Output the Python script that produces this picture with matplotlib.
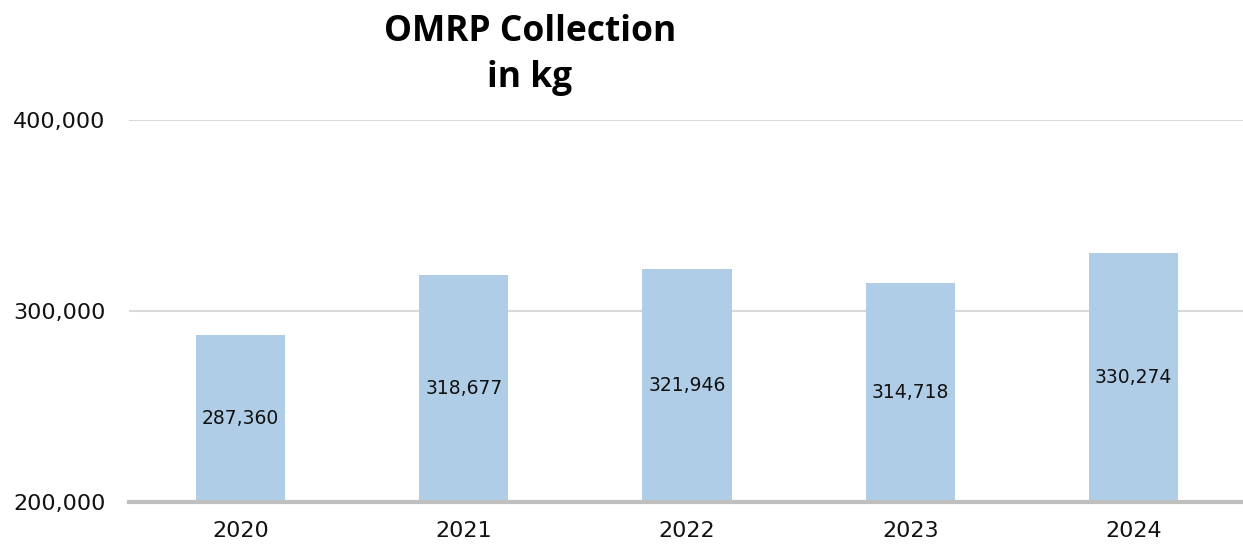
import matplotlib.pyplot as plt
import matplotlib.ticker as ticker

years = ['2020', '2021', '2022', '2023', '2024']
collected = [287360, 318677, 321946, 314718, 330274]

plt.rcParams['font.family'] = ['DejaVu Sans']

fig = plt.figure(figsize=(12.43, 5.46), dpi=100)
ax = fig.add_axes([129 / 1243, 44 / 546, 1116 / 1243, 382 / 546])

x = range(len(years))
bars = ax.bar(x, collected, width=0.40, color='#AFCDE6', zorder=2)
for b, v in zip(bars, collected):
    ax.text(b.get_x() + b.get_width() / 2, (200000 + v) / 2, f'{v:,}',
            ha='center', va='center', fontsize=13.5, color='#111111')

ax.set_xlim(-0.5, len(years) - 0.5)
ax.set_ylim(200000, 400000)
ax.set_xticks(list(x))
ax.set_xticklabels(years)
ax.yaxis.set_major_locator(ticker.MultipleLocator(100000))
ax.yaxis.set_major_formatter(ticker.FuncFormatter(lambda v, p: f'{int(v):,}'))
ax.grid(axis='y', color='#D9D9D9', linewidth=1.5, zorder=0)
ax.tick_params(length=0, labelsize=16, colors='#111111')
ax.tick_params(axis='y', pad=17)
ax.tick_params(axis='x', pad=14)
for s in ['top', 'right', 'left']:
    ax.spines[s].set_visible(False)
ax.spines['bottom'].set_color('#BFBFBF')
ax.spines['bottom'].set_linewidth(3)
ax.spines['bottom'].set_zorder(3)

fig.text(530 / 1243, 1 - 55 / 546, 'OMRP Collection\nin kg', ha='center', va='center',
         fontsize=25.5, fontweight='bold', linespacing=1.4,
         family=['Open Sans', 'DejaVu Sans'])

fig.savefig('out.png', dpi=100)
